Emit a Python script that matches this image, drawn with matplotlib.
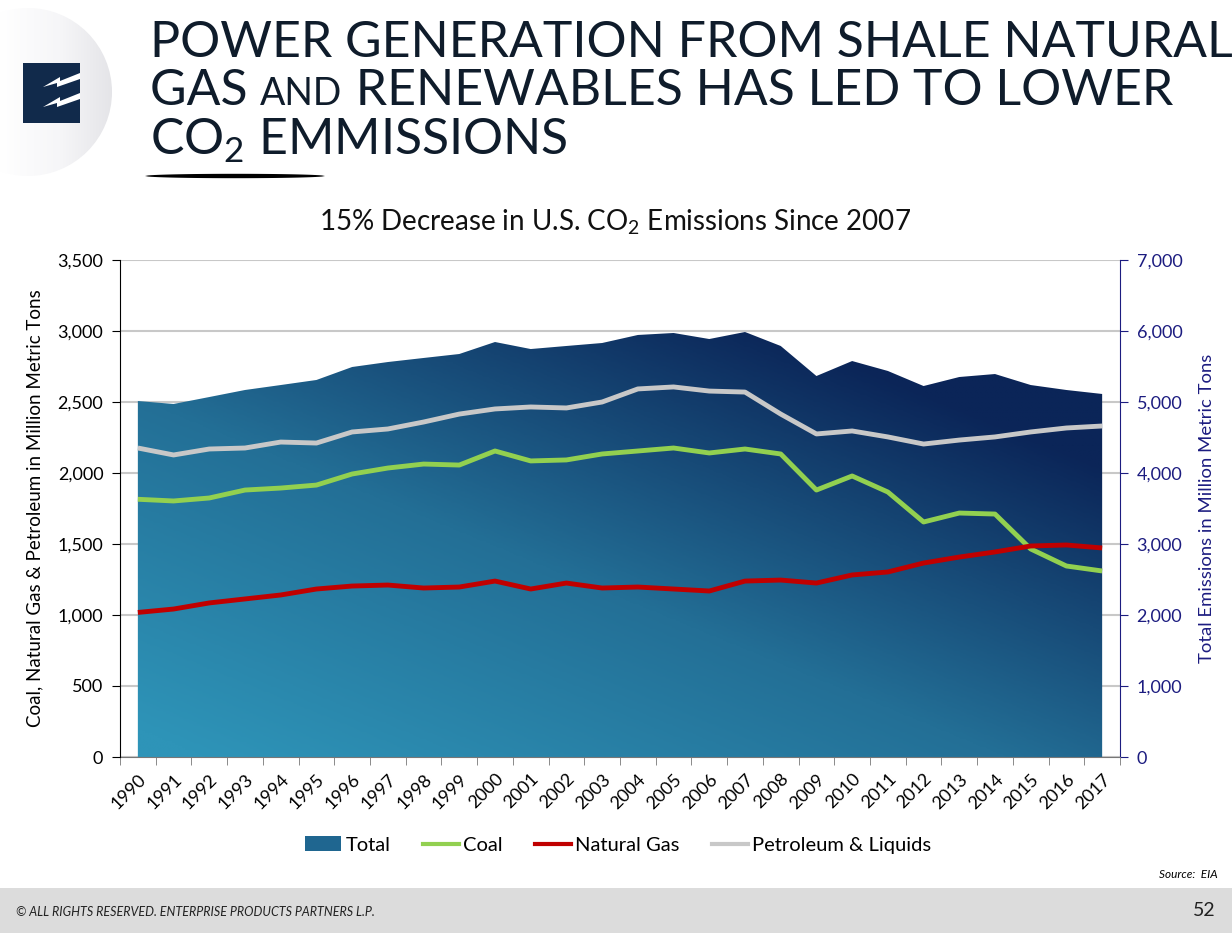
import matplotlib.pyplot as plt
import numpy as np
from matplotlib.colors import LinearSegmentedColormap
from matplotlib.patches import Rectangle, Circle, Polygon
from matplotlib.lines import Line2D

plt.rcParams['font.family'] = ['Lato', 'DejaVu Sans']
plt.rcParams['mathtext.fontset'] = 'custom'
plt.rcParams['mathtext.rm'] = 'Lato'

years = [str(y) for y in range(1990, 2018)]

# right axis, million metric tons
total = [5014, 4972, 5070, 5169, 5239, 5310, 5493, 5563, 5620, 5676,
         5845, 5746, 5789, 5831, 5944, 5972, 5887, 5986, 5789, 5366,
         5577, 5437, 5225, 5352, 5394, 5239, 5169, 5113]
# left axis, million metric tons
coal = [1815, 1803, 1824, 1880, 1894, 1915, 1993, 2035, 2063, 2056,
        2155, 2085, 2092, 2134, 2155, 2176, 2141, 2169, 2134, 1880,
        1979, 1866, 1655, 1718, 1711, 1465, 1345, 1310]
natural_gas = [1018, 1042, 1085, 1113, 1141, 1183, 1204, 1211, 1190, 1197,
               1239, 1183, 1225, 1190, 1197, 1183, 1169, 1239, 1246, 1225,
               1282, 1303, 1366, 1408, 1444, 1486, 1493, 1472]
petroleum = [2176, 2127, 2169, 2176, 2218, 2211, 2289, 2310, 2359, 2415,
             2451, 2465, 2458, 2500, 2592, 2606, 2577, 2570, 2415, 2275,
             2296, 2254, 2204, 2232, 2254, 2289, 2317, 2331]

NAVY = '#1c1c80'
x = np.arange(len(years))

fig = plt.figure(figsize=(12.32, 9.33), dpi=100)
W, H = 1232, 933

def fx(px):
    return px / W

def fy(py):
    return 1 - py / H

# logo area, drawn in pixel units
axl = fig.add_axes([0, fy(180), 120 / W, 175 / H])
axl.set_xlim(0, 120)
axl.set_ylim(180, 5)
axl.axis('off')
lg = np.tile(np.linspace(0, 1, 200), (50, 1))
lcmap = LinearSegmentedColormap.from_list('logo', ['#ffffff', '#f6f6f8', '#e2e2e6'])
lim = axl.imshow(lg, cmap=lcmap, extent=[0, 120, 180, 5], aspect='auto')
circ = Circle((28, 92), 84, transform=axl.transData)
lim.set_clip_path(circ)
axl.add_patch(Rectangle((23, 63), 57, 60, facecolor='#112a4b', edgecolor='none'))
for dy in (0, 20):
    bolt = [(43, 87), (60, 77), (60, 81), (80, 73), (80, 79), (57, 87), (57, 83)]
    axl.add_patch(Polygon([(px, py + dy) for px, py in bolt], facecolor='white',
                          edgecolor='none'))

# title
tcol = '#0f1c2b'
TS = 36
fig.text(fx(150), fy(57), 'POWER GENERATION FROM SHALE NATURAL', fontsize=TS,
         color=tcol, va='baseline')
renderer = fig.canvas.get_renderer()
t1 = fig.text(fx(150), fy(105), 'GAS ', fontsize=TS, color=tcol, va='baseline')
e1 = t1.get_window_extent(renderer)
t2 = fig.text(e1.x1 / W, fy(105), 'AND', fontsize=TS * 0.75, color=tcol, va='baseline')
e2 = t2.get_window_extent(renderer)
fig.text(e2.x1 / W, fy(105), ' RENEWABLES HAS LED TO LOWER', fontsize=TS,
         color=tcol, va='baseline')
fig.text(fx(150), fy(155), r'CO$_\mathregular{2}$ EMMISSIONS', fontsize=TS,
         color=tcol, va='baseline')
ux = np.linspace(145, 325, 60)
uh = 2.2 * np.sqrt(np.clip(1 - ((ux - 235) / 90) ** 2, 0, 1))
fig.patches.append(Polygon(np.column_stack([np.r_[ux, ux[::-1]] / W,
                                            fy(np.r_[176 - uh, (176 + uh)[::-1]])]),
                           transform=fig.transFigure, facecolor='black',
                           edgecolor='none'))

# chart
ax2 = fig.add_axes([fx(120), fy(757), 1000 / W, 497 / H])
ax1 = ax2.twinx()
ax1.yaxis.tick_left()
ax1.yaxis.set_label_position('left')
ax2.yaxis.tick_right()
ax2.yaxis.set_label_position('right')
ax1.set_zorder(ax2.get_zorder() + 1)
ax1.patch.set_visible(False)

ax2.set_xlim(-0.5, len(years) - 0.5)
ax2.set_ylim(0, 7000)
ax1.set_ylim(0, 3500)

ax2.set_yticks(np.arange(0, 7001, 1000))
ax1.set_yticks(np.arange(0, 3501, 500))
ax2.grid(axis='y', color='#c8c8c8', lw=1.5, zorder=0)
ax2.set_axisbelow(True)

poly = ax2.fill_between(x, 0, total, facecolor='none', edgecolor='none')
gx, gy = np.meshgrid(np.linspace(0, 1, 300), np.linspace(0, 1, 300))
grad = 0.62 * gx + 0.75 * gy
cmap = LinearSegmentedColormap.from_list('tot', ['#2e94b8', '#236f96', '#0b2558'])
im = ax2.imshow(grad, cmap=cmap, origin='lower', extent=[0, 1, 0, 1],
                transform=ax2.transAxes, aspect='auto', vmin=0.05, vmax=1.05, zorder=1)
im.set_clip_path(poly.get_paths()[0], ax2.transData)

ax1.plot(x, petroleum, color='#c8c8c8', lw=3.5, solid_capstyle='butt')
ax1.plot(x, coal, color='#92d050', lw=3.5, solid_capstyle='butt')
ax1.plot(x, natural_gas, color='#c00000', lw=3.5, solid_capstyle='butt')

ax2.set_xticks(x)
ax2.set_xticklabels(years, rotation=45, ha='right', va='top', rotation_mode='anchor',
                    fontsize=13)
ax2.set_xticks(np.arange(-0.5, len(years)), minor=True)
ax2.tick_params(axis='x', which='major', length=0, pad=10)
ax2.tick_params(axis='x', which='minor', length=6, color='#777777', direction='out')

fmt = lambda v, p: f'{int(v):,}'
ax1.yaxis.set_major_formatter(plt.FuncFormatter(fmt))
ax2.yaxis.set_major_formatter(plt.FuncFormatter(fmt))
ax1.tick_params(axis='y', labelsize=13, length=6, pad=6)
ax2.tick_params(axis='y', labelsize=13, length=6, pad=6, colors=NAVY)

for a in (ax1, ax2):
    a.spines['top'].set_visible(False)
ax2.spines['left'].set_visible(False)
ax1.spines['right'].set_visible(False)
ax1.spines['bottom'].set_visible(False)
ax2.spines['bottom'].set_color('#777777')
ax2.spines['right'].set_color(NAVY)
ax1.spines['left'].set_color('black')

ax1.set_ylabel('Coal, Natural Gas & Petroleum in Million Metric Tons', fontsize=13.5,
               labelpad=10)
ax2.set_ylabel('Total Emissions in Million Metric Tons', fontsize=13.3, color=NAVY,
               labelpad=12)

fig.text(fx(615), fy(222), r'15% Decrease in U.S. CO$_\mathregular{2}$ Emissions Since 2007',
         fontsize=20, ha='center', va='center', color='#111111')

handles = [Rectangle((0, 0), 1, 1, facecolor='#1f6690'),
           Line2D([], [], color='#92d050', lw=3),
           Line2D([], [], color='#c00000', lw=3),
           Line2D([], [], color='#c8c8c8', lw=3)]
fig.legend(handles, ['Total', 'Coal', 'Natural Gas', 'Petroleum & Liquids'],
           loc='center', bbox_to_anchor=(fx(618), fy(845)), ncol=4, frameon=False,
           fontsize=14.5, handlelength=1.8, handletextpad=0.2, columnspacing=1.6)

fig.text(fx(1218), fy(875), 'Source:  EIA', fontsize=8.5, style='italic',
         ha='right', va='center')

fig.patches.append(Rectangle((0, 0), 1, 45 / H, transform=fig.transFigure,
                             facecolor='#dcdcdc', edgecolor='none', zorder=0))
fig.text(fx(16), fy(912), '© ALL RIGHTS RESERVED. ENTERPRISE PRODUCTS PARTNERS L.P.',
         fontsize=9, style='italic', va='center', color='#222222')
fig.text(fx(1216), fy(911), '52', fontsize=14, ha='right', va='center', color='#222222')

fig.savefig('out.png', dpi=100, facecolor='white')
